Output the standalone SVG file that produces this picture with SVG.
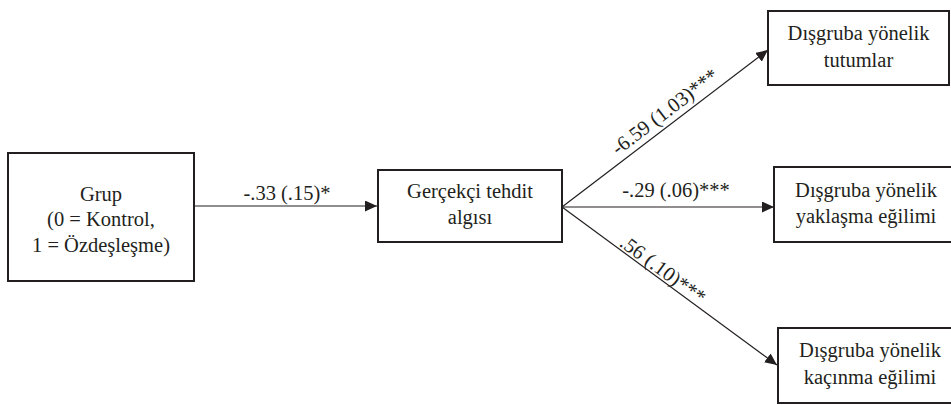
<svg xmlns="http://www.w3.org/2000/svg" width="951" height="405" viewBox="0 0 951 405">
<defs>
<marker id="ah" markerWidth="12" markerHeight="11" refX="12" refY="5.5" orient="auto" markerUnits="userSpaceOnUse">
<path d="M0,0 L12,5.5 L0,11 Z" fill="#231f20"/>
</marker>
</defs>
<rect width="951" height="405" fill="#ffffff"/>
<g id="connectors">
<line x1="194" y1="206" x2="377" y2="206" stroke="#231f20" stroke-width="1.2" marker-end="url(#ah)"/>
<line x1="562" y1="207" x2="768" y2="50" stroke="#231f20" stroke-width="1.2" marker-end="url(#ah)"/>
<line x1="562" y1="207" x2="774" y2="207" stroke="#231f20" stroke-width="1.2" marker-end="url(#ah)"/>
<line x1="562" y1="207" x2="777" y2="365" stroke="#231f20" stroke-width="1.2" marker-end="url(#ah)"/>
<text x="287" y="200" font-family="Liberation Serif" font-size="20.5" text-anchor="middle" fill="#231f20">-.33 (.15)*</text>
<text x="676" y="197" font-family="Liberation Serif" font-size="20.5" text-anchor="middle" fill="#231f20">-.29 (.06)***</text>
<text transform="translate(669,117) rotate(-37.3)" font-family="Liberation Serif" font-size="20.5" text-anchor="middle" fill="#231f20">-6.59 (1.03)***</text>
<text transform="translate(659,275) rotate(36.3)" font-family="Liberation Serif" font-size="20.5" text-anchor="middle" fill="#231f20">.56 (.10)***</text>
</g>
<g id="grup">
<rect x="8" y="153" width="186" height="128" fill="#ffffff" stroke="#231f20" stroke-width="2"/>
<text x="101" y="200.5" font-family="Liberation Serif" font-size="20.5" text-anchor="middle" fill="#231f20">Grup</text>
<text x="101" y="226" font-family="Liberation Serif" font-size="20.5" text-anchor="middle" fill="#231f20">(0 = Kontrol,</text>
<text x="101" y="251.5" font-family="Liberation Serif" font-size="20.5" text-anchor="middle" fill="#231f20">1 = Özdeşleşme)</text>
</g>
<g id="tehdit">
<rect x="378" y="170" width="184" height="72" fill="#ffffff" stroke="#231f20" stroke-width="2"/>
<text x="470" y="198" font-family="Liberation Serif" font-size="20.5" text-anchor="middle" fill="#231f20">Gerçekçi tehdit</text>
<text x="470" y="224" font-family="Liberation Serif" font-size="20.5" text-anchor="middle" fill="#231f20">algısı</text>
</g>
<g id="tutumlar">
<rect x="768" y="11" width="181" height="74" fill="#ffffff" stroke="#231f20" stroke-width="2"/>
<text x="858.5" y="40" font-family="Liberation Serif" font-size="20.5" text-anchor="middle" fill="#231f20">Dışgruba yönelik</text>
<text x="858.5" y="66.5" font-family="Liberation Serif" font-size="20.5" text-anchor="middle" fill="#231f20">tutumlar</text>
</g>
<g id="yaklasma">
<rect x="774" y="167" width="190" height="75" fill="#ffffff" stroke="#231f20" stroke-width="2"/>
<text x="866" y="197" font-family="Liberation Serif" font-size="20.5" text-anchor="middle" fill="#231f20">Dışgruba yönelik</text>
<text x="866" y="223" font-family="Liberation Serif" font-size="20.5" text-anchor="middle" fill="#231f20">yaklaşma eğilimi</text>
</g>
<g id="kacinma">
<rect x="778" y="328" width="190" height="75" fill="#ffffff" stroke="#231f20" stroke-width="2"/>
<text x="870" y="357" font-family="Liberation Serif" font-size="20.5" text-anchor="middle" fill="#231f20">Dışgruba yönelik</text>
<text x="870" y="383.5" font-family="Liberation Serif" font-size="20.5" text-anchor="middle" fill="#231f20">kaçınma eğilimi</text>
</g>
</svg>
